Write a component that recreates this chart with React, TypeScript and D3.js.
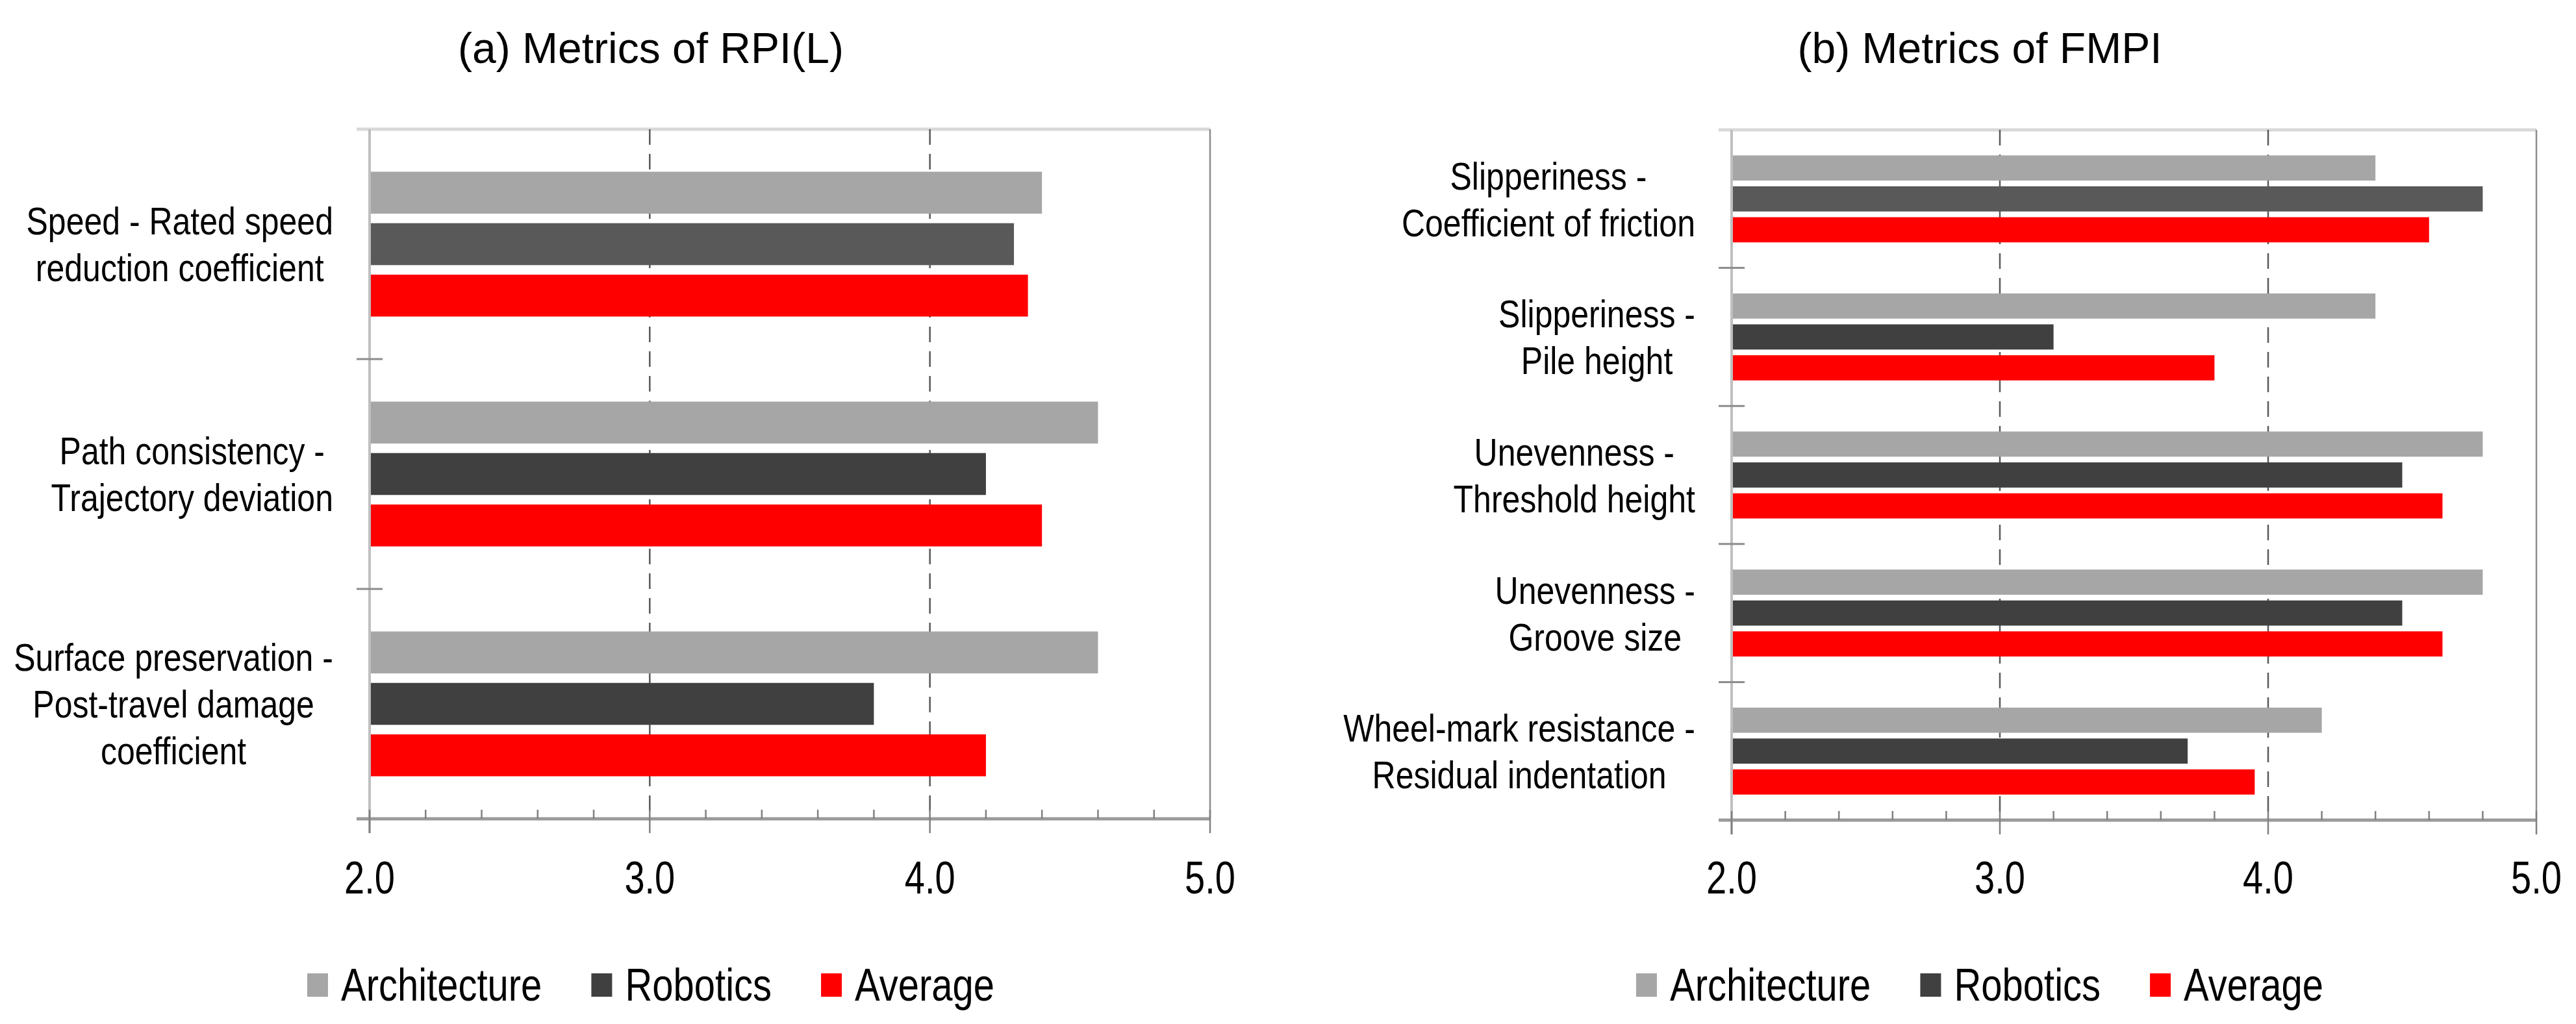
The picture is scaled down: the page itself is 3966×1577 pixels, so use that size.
import React from 'react';
import * as d3 from 'd3';

const seriesNames = ['Architecture', 'Robotics', 'Average'];
const seriesColors = ['#a6a6a6', '#404040', '#ff0000'];

const rpiLabels = [
  ['Speed - Rated speed', 'reduction coefficient'],
  ['Path consistency -', 'Trajectory deviation'],
  ['Surface preservation -', 'Post-travel damage', 'coefficient'],
];
const rpiArchitecture = [4.4, 4.6, 4.6];
const rpiRobotics = [4.3, 4.2, 3.8];
const rpiAverage = [4.35, 4.4, 4.2];

const fmpiLabels = [
  ['Slipperiness -', 'Coefficient of friction'],
  ['Slipperiness -', 'Pile height'],
  ['Unevenness -', 'Threshold height'],
  ['Unevenness -', 'Groove size'],
  ['Wheel-mark resistance -', 'Residual indentation'],
];
const fmpiArchitecture = [4.4, 4.4, 4.8, 4.8, 4.2];
const fmpiRobotics = [4.8, 3.2, 4.5, 4.5, 3.7];
const fmpiAverage = [4.6, 3.8, 4.65, 4.65, 3.95];

const xDomain = [2, 5];
const xTicks = [2, 3, 4, 5];

const FONT = '"Liberation Sans", Arial, sans-serif';
const W = 3966;
const H = 1577;

const ctx = document.createElement('canvas').getContext('2d');
function textWidth(s: string, size: number) {
  if (!ctx) return s.length * size * 0.5;
  ctx.font = `${size}px "Liberation Sans", Arial, sans-serif`;
  return ctx.measureText(s).width;
}

// stretched text (the source figure's glyphs are taller than normal)
function SText(props: any) {
  const { x, y, sy = 1, size, anchor = 'start', fill = '#000', children } = props;
  return (
    <text
      transform={`translate(${x},${y}) scale(1,${sy})`}
      fontSize={size}
      fontFamily={FONT}
      textAnchor={anchor}
      fill={fill}
    >
      {children}
    </text>
  );
}

function Panel(props: any) {
  const { title, labels, values, x0, x1, top, bottom, titleX } = props;

  const x = d3.scaleLinear().domain(xDomain).range([x0, x1]);
  const y = d3.scaleBand<number>().domain(labels.map((_: any, i: number) => i)).range([top, bottom]);
  const groupH = y.bandwidth() * 0.63;
  const inner = d3.scaleBand<string>().domain(seriesNames).range([0, groupH]).paddingInner(0.185);
  const minor = d3.range(xDomain[0], xDomain[1] + 0.001, 0.2);

  const labelSize = 50;
  const labelSy = 1.2;
  const lineGap = 72;
  const labelRight = x0 - 56;

  // legend layout
  const legSize = 58;
  const swW = 32;
  const swH = 36;
  const swGap = 20;
  const itemGap = 76;
  const widths = seriesNames.map((s) => textWidth(s, legSize));
  const legendW = d3.sum(widths) + seriesNames.length * (swW + swGap) + itemGap * (seriesNames.length - 1);
  let cursor = titleX - legendW / 2;
  const legendItems = seriesNames.map((s, i) => {
    const item = { name: s, color: seriesColors[i], x: cursor };
    cursor += swW + swGap + widths[i] + itemGap;
    return item;
  });

  return (
    <g>
      <SText x={titleX} y={97} size={66} anchor="middle">{title}</SText>

      {/* top border */}
      <line x1={x0 - 20} x2={x1} y1={top} y2={top} stroke="#d9d9d9" strokeWidth={5} />

      {/* gridlines */}
      {xTicks.slice(1, -1).map((t) => (
        <line key={t} x1={x(t)} x2={x(t)} y1={top} y2={bottom} stroke="#595959" strokeWidth={2.5} strokeDasharray="24,14" />
      ))}
      <line x1={x(xDomain[1])} x2={x(xDomain[1])} y1={top} y2={bottom} stroke="#8c8c8c" strokeWidth={2.5} />

      {/* bars */}
      {labels.map((_: any, i: number) => (
        <g key={i} transform={`translate(0,${(y(i) as number) + (y.bandwidth() - groupH) / 2})`}>
          {seriesNames.map((s, k) => (
            <rect
              key={s}
              x={x(xDomain[0])}
              y={inner(s)}
              width={x(values[k][i]) - x(xDomain[0])}
              height={inner.bandwidth()}
              fill={k === 1 && i === 0 ? '#595959' : seriesColors[k]}
            />
          ))}
        </g>
      ))}

      {/* y axis */}
      <line x1={x0} x2={x0} y1={top} y2={bottom + 22} stroke="#bfbfbf" strokeWidth={4} />
      {labels.map((_: any, i: number) =>
        i === 0 ? null : (
          <line key={i} x1={x0 - 20} x2={x0 + 20} y1={y(i)} y2={y(i)} stroke="#8c8c8c" strokeWidth={3} />
        )
      )}

      {/* x axis */}
      <line x1={x0 - 20} x2={x1} y1={bottom} y2={bottom} stroke="#9a9a9a" strokeWidth={5} />
      {minor.map((t) => (
        <line key={t} x1={x(t)} x2={x(t)} y1={bottom - 14} y2={bottom} stroke="#808080" strokeWidth={2.5} />
      ))}
      {xTicks.map((t) => (
        <line key={t} x1={x(t)} x2={x(t)} y1={bottom} y2={bottom + 22} stroke="#808080" strokeWidth={2.5} />
      ))}
      {xTicks.map((t) => (
        <SText key={t} x={x(t)} y={1376} size={56} sy={1.25} anchor="middle">{d3.format('.1f')(t)}</SText>
      ))}

      {/* category labels */}
      {labels.map((lines: string[], i: number) => {
        const c = (y(i) as number) + y.bandwidth() / 2;
        const maxW = d3.max(lines, (l) => textWidth(l, labelSize)) as number;
        const cx = labelRight - maxW / 2;
        return lines.map((l, j) => (
          <SText
            key={`${i}-${j}`}
            x={cx}
            y={c + (j - (lines.length - 1) / 2) * lineGap + 0.716 * labelSize * labelSy / 2}
            size={labelSize}
            sy={labelSy}
            anchor="middle"
          >
            {l}
          </SText>
        ));
      })}

      {/* legend */}
      {legendItems.map((it) => (
        <g key={it.name}>
          <rect x={it.x} y={1499} width={swW} height={swH} fill={it.color} />
          <SText x={it.x + swW + swGap} y={1541} size={legSize} sy={1.2}>{it.name}</SText>
        </g>
      ))}
    </g>
  );
}

export default function App() {
  return (
    <svg
      width={W}
      height={H}
      viewBox={`0 0 ${W} ${H}`}
      style={{ position: 'absolute', left: 0, top: 0, background: '#fff' }}
    >
      <rect width={W} height={H} fill="#fff" />
      <Panel
        title="(a) Metrics of RPI(L)"
        labels={rpiLabels}
        values={[rpiArchitecture, rpiRobotics, rpiAverage]}
        x0={569}
        x1={1863}
        top={199}
        bottom={1261}
        titleX={1002}
      />
      <Panel
        title="(b) Metrics of FMPI"
        labels={fmpiLabels}
        values={[fmpiArchitecture, fmpiRobotics, fmpiAverage]}
        x0={2666}
        x1={3905}
        top={200}
        bottom={1263}
        titleX={3048}
      />
    </svg>
  );
}
